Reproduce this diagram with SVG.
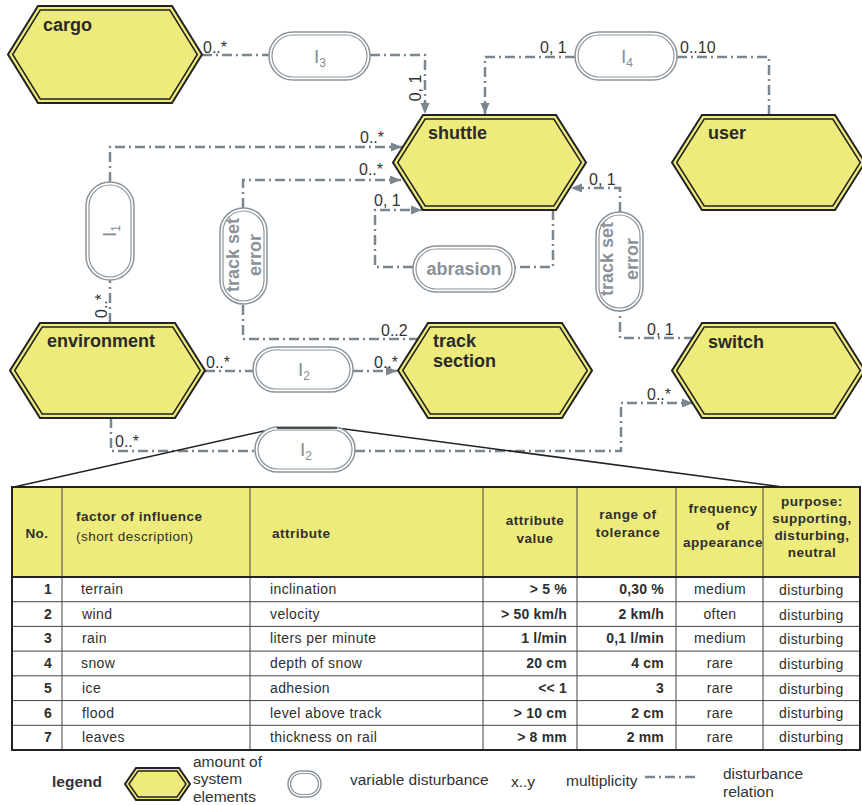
<svg xmlns="http://www.w3.org/2000/svg" width="862" height="805" viewBox="0 0 862 805">
<defs>
<marker id="arr" markerUnits="userSpaceOnUse" markerWidth="12" markerHeight="10" refX="11" refY="5" orient="auto"><path d="M0,0.5 L11,5 L0,9.5 z" fill="#7b868f"/></marker>
</defs>
<style>
.hexo{fill:#edeb7c;stroke:#222;stroke-width:2}
.hexi{fill:#edeb7c;stroke:#222;stroke-width:1.5}
.nl{font-family:'Liberation Sans',Arial,sans-serif;font-weight:bold;font-size:18px;fill:#2a2a2a}
.po{fill:#fff;stroke:#8c959c;stroke-width:1.5}
.pi{fill:none;stroke:#8c959c;stroke-width:1.2}
.pl{font-family:'Liberation Sans',Arial,sans-serif;font-size:19px;fill:#858d93;text-anchor:middle}
.plb{font-family:'Liberation Sans',Arial,sans-serif;font-size:18px;font-weight:bold;fill:#8a9298;text-anchor:middle}
.c{fill:none;stroke:#7b868f;stroke-width:2.5;stroke-dasharray:10 4 2 4}
.m{font-family:'Liberation Sans',Arial,sans-serif;font-size:16px;fill:#333}
.th{font-family:'Liberation Sans',Arial,sans-serif;font-size:13.5px;font-weight:bold;fill:#2e2e2e;letter-spacing:0.5px}
.thn{font-family:'Liberation Sans',Arial,sans-serif;font-size:13.5px;fill:#2e2e2e;letter-spacing:0.5px}
.td{font-family:'Liberation Sans',Arial,sans-serif;font-size:14px;fill:#2e2e2e;letter-spacing:0.4px}
.tdb{font-family:'Liberation Sans',Arial,sans-serif;font-size:14px;font-weight:bold;fill:#2e2e2e;letter-spacing:0.2px}
.grid{stroke:#444;stroke-width:1}
.lg{font-family:'Liberation Sans',Arial,sans-serif;font-size:15.5px;fill:#333}
</style>

<g id="connectors">
<path class="c" d="M202,55 H269"/>
<path class="c" d="M370,55 H425 V114" marker-end="url(#arr)"/>
<path class="c" d="M769,115 V57 H677"/>
<path class="c" d="M575,57 H485 V114" marker-end="url(#arr)"/>
<path class="c" d="M110,323 V280"/>
<path class="c" d="M110,182 V147 H402" marker-end="url(#arr)"/>
<path class="c" d="M419,339 H243 V304"/>
<path class="c" d="M243,208 V180 H401" marker-end="url(#arr)"/>
<path class="c" d="M553,210 V267 H515"/>
<path class="c" d="M413,267 H375 V210 H422" marker-end="url(#arr)"/>
<path class="c" d="M694,338 H620 V311"/>
<path class="c" d="M620,212 V188 H571" marker-end="url(#arr)"/>
<path class="c" d="M205,371 H253"/>
<path class="c" d="M353,371 H397" marker-end="url(#arr)"/>
<path class="c" d="M111,418 V451 H255"/>
<path class="c" d="M355,451 H621 V403 H693" marker-end="url(#arr)"/>
<polyline points="14,487 277,428 337,428 783,487" fill="none" stroke="#222" stroke-width="1.5"/>
</g>

<g id="labels" class="m">
<text x="203" y="53">0..*</text>
<text transform="translate(421,88) rotate(-90)" text-anchor="middle">0, 1</text>
<text x="540" y="53">0, 1</text>
<text x="680" y="53">0..10</text>
<text x="360" y="143">0..*</text>
<text x="359" y="175">0..*</text>
<text x="374" y="206">0, 1</text>
<text x="589" y="185">0, 1</text>
<text transform="translate(107,306) rotate(-90)" text-anchor="middle">0..*</text>
<text x="381" y="336">0..2</text>
<text x="206" y="368">0..*</text>
<text x="374" y="368">0..*</text>
<text x="647" y="335">0, 1</text>
<text x="115" y="447">0..*</text>
<text x="647" y="400">0..*</text>
</g>

<g id="cargo">
<polygon class="hexo" points="8,54.5 38,6 172,6 202,54.5 172,103 38,103"/>
<polygon class="hexi" points="12.7,54.5 40.2,10 169.8,10 197.3,54.5 169.8,99 40.2,99"/>
<text class="nl" x="43" y="31">cargo</text>
</g>
<g id="shuttle">
<polygon class="hexo" points="393,162.5 423,115 556,115 586,162.5 556,210 423,210"/>
<polygon class="hexi" points="397.7,162.5 425.2,119 553.8,119 581.3,162.5 553.8,206 425.2,206"/>
<text class="nl" x="428" y="139">shuttle</text>
</g>
<g id="user">
<polygon class="hexo" points="672,162.5 702,115 835,115 865,162.5 835,210 702,210"/>
<polygon class="hexi" points="676.7,162.5 704.2,119 832.8,119 860.3,162.5 832.8,206 704.2,206"/>
<text class="nl" x="708" y="139">user</text>
</g>
<g id="environment">
<polygon class="hexo" points="10,370.5 40,323 175,323 205,370.5 175,418 40,418"/>
<polygon class="hexi" points="14.7,370.5 42.2,327 172.8,327 200.3,370.5 172.8,414 42.2,414"/>
<text class="nl" x="47" y="347">environment</text>
</g>
<g id="track-section">
<polygon class="hexo" points="398,370.5 428,323 562,323 592,370.5 562,418 428,418"/>
<polygon class="hexi" points="402.7,370.5 430.2,327 559.8,327 587.3,370.5 559.8,414 430.2,414"/>
<text class="nl" x="433" y="347">track</text>
<text class="nl" x="433" y="367">section</text>
</g>
<g id="switch">
<polygon class="hexo" points="672,370.5 702,323 835,323 865,370.5 835,418 702,418"/>
<polygon class="hexi" points="676.7,370.5 704.2,327 832.8,327 860.3,370.5 832.8,414 704.2,414"/>
<text class="nl" x="708" y="348">switch</text>
</g>

<g id="I3">
<rect class="po" x="269" y="32" width="101" height="48" rx="24"/>
<rect class="pi" x="272" y="35" width="95" height="42" rx="21"/>
<text class="pl" x="320" y="63">I<tspan font-size="12" dy="4">3</tspan></text>
</g>
<g id="I4">
<rect class="po" x="575" y="32" width="102" height="48" rx="24"/>
<rect class="pi" x="578" y="35" width="96" height="42" rx="21"/>
<text class="pl" x="627" y="63">I<tspan font-size="12" dy="4">4</tspan></text>
</g>
<g id="I1">
<rect class="po" x="86" y="182" width="48" height="98" rx="24"/>
<rect class="pi" x="89" y="185" width="42" height="92" rx="21"/>
<text class="pl" transform="translate(110,231) rotate(-90)" x="0" y="6">I<tspan font-size="12" dy="4">1</tspan></text>
</g>
<g id="track-set-error-left">
<rect class="po" x="220" y="208" width="47" height="96" rx="23.5"/>
<rect class="pi" x="223" y="211" width="41" height="90" rx="20.5"/>
<text class="plb" transform="translate(243,255) rotate(-90)"><tspan x="0" y="-4">track set</tspan><tspan x="0" y="18">error</tspan></text>
</g>
<g id="track-set-error-right">
<rect class="po" x="596" y="212" width="47" height="99" rx="23.5"/>
<rect class="pi" x="599" y="215" width="41" height="93" rx="20.5"/>
<text class="plb" transform="translate(620,259) rotate(-90)"><tspan x="0" y="-7">track set</tspan><tspan x="0" y="18">error</tspan></text>
</g>
<g id="abrasion">
<rect class="po" x="413" y="246" width="102" height="46" rx="23"/>
<rect class="pi" x="416" y="249" width="96" height="40" rx="20"/>
<text class="plb" x="464" y="275">abrasion</text>
</g>
<g id="I2-mid">
<rect class="po" x="253" y="347" width="100" height="45" rx="22.5"/>
<rect class="pi" x="256" y="350" width="94" height="39" rx="19.5"/>
<text class="pl" x="304" y="376">I<tspan font-size="12" dy="4">2</tspan></text>
</g>
<g id="I2-low">
<rect class="po" x="255" y="427" width="100" height="45" rx="22.5"/>
<rect class="pi" x="258" y="430" width="94" height="39" rx="19.5"/>
<text class="pl" x="306" y="456">I<tspan font-size="12" dy="4">2</tspan></text>
<line x1="277" y1="428" x2="337" y2="428" stroke="#222" stroke-width="1.5"/>
</g>

<g id="table">
<rect x="12" y="487" width="848" height="90" fill="#edeb7c"/>
<rect x="12" y="577" width="848" height="173" fill="#fff"/>
<g class="grid">
<line x1="62" y1="487" x2="62" y2="750"/>
<line x1="250" y1="487" x2="250" y2="750"/>
<line x1="483" y1="487" x2="483" y2="750"/>
<line x1="577" y1="487" x2="577" y2="750"/>
<line x1="676" y1="487" x2="676" y2="750"/>
<line x1="763" y1="487" x2="763" y2="750"/>
<line x1="12" y1="601.7" x2="860" y2="601.7"/>
<line x1="12" y1="626.4" x2="860" y2="626.4"/>
<line x1="12" y1="651.1" x2="860" y2="651.1"/>
<line x1="12" y1="675.8" x2="860" y2="675.8"/>
<line x1="12" y1="700.6" x2="860" y2="700.6"/>
<line x1="12" y1="725.3" x2="860" y2="725.3"/>
</g>
<line x1="12" y1="577" x2="860" y2="577" stroke="#222" stroke-width="2"/>
<rect x="12" y="487" width="848" height="263" fill="none" stroke="#222" stroke-width="2"/>

<text class="th" x="37" y="538" text-anchor="middle">No.</text>
<text class="th" x="76" y="521">factor of influence</text>
<text class="thn" x="76" y="541">(short description)</text>
<text class="th" x="272" y="538">attribute</text>
<text class="th" text-anchor="middle"><tspan x="535" y="525">attribute</tspan><tspan x="535" y="543">value</tspan></text>
<text class="th" text-anchor="middle"><tspan x="628" y="519">range of</tspan><tspan x="628" y="537">tolerance</tspan></text>
<text class="th" text-anchor="middle"><tspan x="723" y="513">frequency</tspan><tspan x="723" y="530">of</tspan><tspan x="723" y="547">appearance</tspan></text>
<text class="th" text-anchor="middle"><tspan x="812" y="506">purpose:</tspan><tspan x="812" y="523">supporting,</tspan><tspan x="812" y="540">disturbing,</tspan><tspan x="812" y="557">neutral</tspan></text>

<g class="tdb" text-anchor="middle">
<text x="48" y="594">1</text><text x="48" y="618.7">2</text><text x="48" y="643.4">3</text><text x="48" y="668.1">4</text><text x="48" y="692.8">5</text><text x="48" y="717.6">6</text><text x="48" y="742.3">7</text>
</g>
<g class="td">
<text x="81" y="594">terrain</text><text x="82" y="618.7">wind</text><text x="82" y="643.4">rain</text><text x="81" y="668.1">snow</text><text x="82" y="692.8">ice</text><text x="82" y="717.6">flood</text><text x="82" y="742.3">leaves</text>
<text x="270" y="594">inclination</text><text x="270" y="618.7">velocity</text><text x="270" y="643.4">liters per minute</text><text x="270" y="668.1">depth of snow</text><text x="270" y="692.8">adhesion</text><text x="270" y="717.6">level above track</text><text x="270" y="742.3">thickness on rail</text>
</g>
<g class="tdb" text-anchor="end">
<text x="567" y="594">&gt; 5 %</text><text x="567" y="618.7">&gt; 50 km/h</text><text x="567" y="643.4">1 l/min</text><text x="567" y="668.1">20 cm</text><text x="567" y="692.8">&lt;&lt; 1</text><text x="567" y="717.6">&gt; 10 cm</text><text x="567" y="742.3">&gt; 8 mm</text>
<text x="664" y="594">0,30 %</text><text x="664" y="618.7">2 km/h</text><text x="664" y="643.4">0,1 l/min</text><text x="664" y="668.1">4 cm</text><text x="664" y="692.8">3</text><text x="664" y="717.6">2 cm</text><text x="664" y="742.3">2 mm</text>
</g>
<g class="td" text-anchor="middle">
<text x="720" y="594">medium</text><text x="720" y="618.7">often</text><text x="720" y="643.4">medium</text><text x="720" y="668.1">rare</text><text x="720" y="692.8">rare</text><text x="720" y="717.6">rare</text><text x="720" y="742.3">rare</text>
</g>
<g class="td">
<text x="779" y="595">disturbing</text><text x="779" y="619.7">disturbing</text><text x="779" y="644.4">disturbing</text><text x="779" y="669.1">disturbing</text><text x="779" y="693.8">disturbing</text><text x="779" y="717.6">disturbing</text><text x="779" y="742.3">disturbing</text>
</g>
</g>

<g id="legend">
<text class="lg" x="52" y="787" font-weight="bold" font-size="15">legend</text>
<polygon class="hexo" points="125,784 136,768 179,768 190,784 179,800 136,800"/>
<polygon class="hexi" points="129,784 138,771 177,771 186,784 177,797 138,797"/>
<text class="lg" font-size="14"><tspan x="193" y="767">amount of</tspan><tspan x="193" y="784">system</tspan><tspan x="193" y="801.5">elements</tspan></text>
<rect class="po" x="288" y="771" width="33" height="26" rx="13"/>
<rect class="pi" x="290.5" y="773.5" width="28" height="21" rx="10.5"/>
<text class="lg" x="350" y="785">variable disturbance</text>
<text class="lg" x="511" y="787" font-size="18">x..y</text>
<text class="lg" x="566" y="786">multiplicity</text>
<line class="c" x1="645" y1="777" x2="695" y2="777"/>
<text class="lg"><tspan x="723" y="779">disturbance</tspan><tspan x="723" y="797">relation</tspan></text>
</g>
</svg>
